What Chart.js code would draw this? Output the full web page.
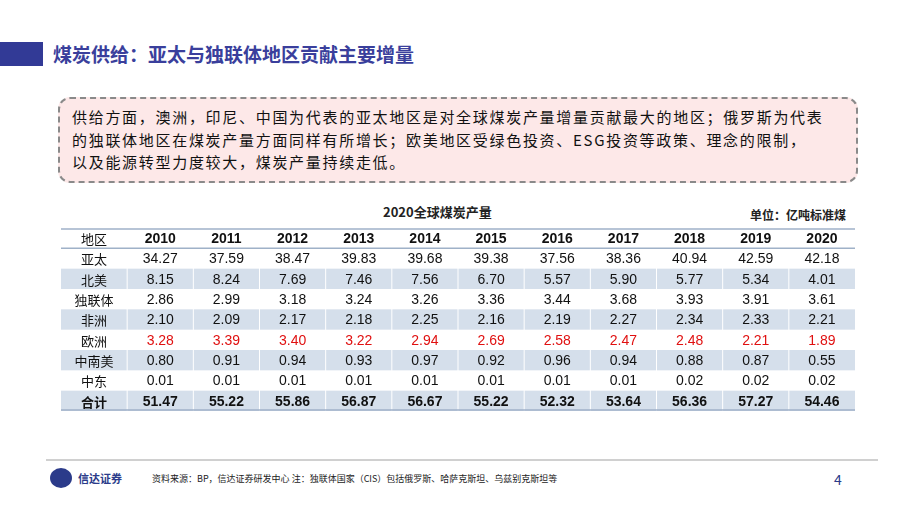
<!DOCTYPE html>
<html><head><meta charset="utf-8">
<script src="https://cdn.jsdelivr.net/npm/chart.js@4"></script>
<style>
body{margin:0;width:920px;height:518px;position:relative;background:#fff;font-family:"Noto Sans CJK SC",sans-serif;overflow:hidden}
.abs{position:absolute;white-space:nowrap}
#bar{left:0;top:42px;width:43px;height:24px;background:#323a96}
#title{left:53px;top:40px;font-size:19px;font-weight:bold;color:#3a3f9c}
#box{left:58px;top:97px;width:796px;height:82px;background:#fde8e8;border:2px dashed #8a8a8a;border-radius:12px}
#boxtxt{left:72px;top:106px;font-size:15px;line-height:22.5px;color:#111;letter-spacing:1.7px}
#cap{left:383px;top:202px;font-size:13px;font-weight:bold;color:#222}
#unit{left:750px;top:206px;font-size:12px;font-weight:bold;color:#222}
#wrap{left:61px;top:228px;width:794px;height:183px}
#foot{left:46px;top:459px;width:832px;height:2px;background:#d0d0d0}
#logo{left:50px;top:468px;width:22px;height:20px;border-radius:50%;background:#2b3b8a}
#logot{left:78px;top:470px;font-size:11px;color:#2b3b8a;font-weight:bold}
#src{left:152px;top:472px;font-size:9px;color:#222}
#pg{left:834px;top:469px;font-size:14px;color:#2b3b8a}
</style></head><body>
<div class="abs" id="bar"></div>
<div class="abs" id="title">煤炭供给：亚太与独联体地区贡献主要增量</div>
<div class="abs" id="box"></div>
<div class="abs" id="boxtxt">供给方面，澳洲，印尼、中国为代表的亚太地区是对全球煤炭产量增量贡献最大的地区；俄罗斯为代表<br>的独联体地区在煤炭产量方面同样有所增长；欧美地区受绿色投资、ESG投资等政策、理念的限制，<br>以及能源转型力度较大，煤炭产量持续走低。</div>
<div class="abs" id="cap">2020全球煤炭产量</div>
<div class="abs" id="unit">单位：亿吨标准煤</div>
<div class="abs" id="wrap"><canvas id="c"></canvas></div>
<div class="abs" id="foot"></div>
<div class="abs" id="logo"></div>
<div class="abs" id="logot">信达证券</div>
<div class="abs" id="src">资料来源：BP，信达证券研发中心 注：独联体国家（CIS）包括俄罗斯、哈萨克斯坦、乌兹别克斯坦等</div>
<div class="abs" id="pg">4</div>
<script>
const years = ['2010','2011','2012','2013','2014','2015','2016','2017','2018','2019','2020'];
const regions = ['亚太','北美','独联体','非洲','欧洲','中南美','中东','合计'];
const asiaPacific = [34.27,37.59,38.47,39.83,39.68,39.38,37.56,38.36,40.94,42.59,42.18];
const northAmerica = [8.15,8.24,7.69,7.46,7.56,6.70,5.57,5.90,5.77,5.34,4.01];
const cis = [2.86,2.99,3.18,3.24,3.26,3.36,3.44,3.68,3.93,3.91,3.61];
const africa = [2.10,2.09,2.17,2.18,2.25,2.16,2.19,2.27,2.34,2.33,2.21];
const europe = [3.28,3.39,3.40,3.22,2.94,2.69,2.58,2.47,2.48,2.21,1.89];
const southCentralAmerica = [0.80,0.91,0.94,0.93,0.97,0.92,0.96,0.94,0.88,0.87,0.55];
const middleEast = [0.01,0.01,0.01,0.01,0.01,0.01,0.01,0.01,0.02,0.02,0.02];
const total = [51.47,55.22,55.86,56.87,56.67,55.22,52.32,53.64,56.36,57.27,54.46];
const rowsData = [asiaPacific,northAmerica,cis,africa,europe,southCentralAmerica,middleEast,total];
const shaded = ['北美','非洲','中南美','合计'];

const xLabels = ['地区', ...years];
const yLabels = ['header', ...regions];

const tablePlugin = {
  id: 'table',
  afterDraw(chart) {
    const ctx = chart.ctx, xs = chart.scales.x, ys = chart.scales.y;
    const rh = ys.height / yLabels.length;
    const left = chart.chartArea.left, right = chart.chartArea.right;
    ctx.save();
    yLabels.forEach((r, ri) => {
      const cy = ys.getPixelForValue(ri);
      if (shaded.includes(r)) {
        ctx.fillStyle = '#d5dfeb';
        ctx.fillRect(left, cy - rh / 2, right - left, rh);
      }
    });
    ctx.strokeStyle = '#ffffff'; ctx.lineWidth = 1;
    for (let i = 1; i < xLabels.length; i++) {
      const x = (xs.getPixelForValue(i - 1) + xs.getPixelForValue(i)) / 2;
      ctx.beginPath(); ctx.moveTo(x, ys.top); ctx.lineTo(x, ys.bottom); ctx.stroke();
    }
    ctx.strokeStyle = '#9fb1c8'; ctx.lineWidth = 1.5;
    [ys.top + 1, ys.top + rh, ys.bottom - 1].forEach(y => {
      ctx.beginPath(); ctx.moveTo(left, y); ctx.lineTo(right, y); ctx.stroke();
    });
    ctx.textAlign = 'center'; ctx.textBaseline = 'middle';
    yLabels.forEach((r, ri) => {
      const cy = ys.getPixelForValue(ri);
      xLabels.forEach((c, ci) => {
        const cx = xs.getPixelForValue(ci);
        let txt, font, color = '#111';
        if (ri === 0) {
          txt = c;
          font = ci === 0 ? '13px "Noto Sans CJK SC"' : 'bold 14px Arial, "Liberation Sans"';
        } else if (ci === 0) {
          txt = r;
          font = (r === '合计' ? 'bold ' : '') + '13px "Noto Sans CJK SC"';
        } else {
          txt = rowsData[ri - 1][ci - 1].toFixed(2);
          font = (r === '合计' ? 'bold ' : '') + '14px Arial, "Liberation Sans"';
          if (r === '欧洲') color = '#e01010';
        }
        ctx.font = font; ctx.fillStyle = color;
        ctx.fillText(txt, cx, cy + 1);
      });
    });
    ctx.restore();
  }
};

new Chart(document.getElementById('c'), {
  type: 'bar',
  data: { labels: xLabels, datasets: [] },
  options: {
    responsive: true, maintainAspectRatio: false, animation: false,
    layout: { padding: 0 },
    plugins: { legend: { display: false }, tooltip: { enabled: false } },
    scales: {
      x: { type: 'category', display: false, offset: true },
      y: { type: 'category', labels: yLabels, display: false, offset: true }
    }
  },
  plugins: [tablePlugin]
});
</script>
</body></html>
